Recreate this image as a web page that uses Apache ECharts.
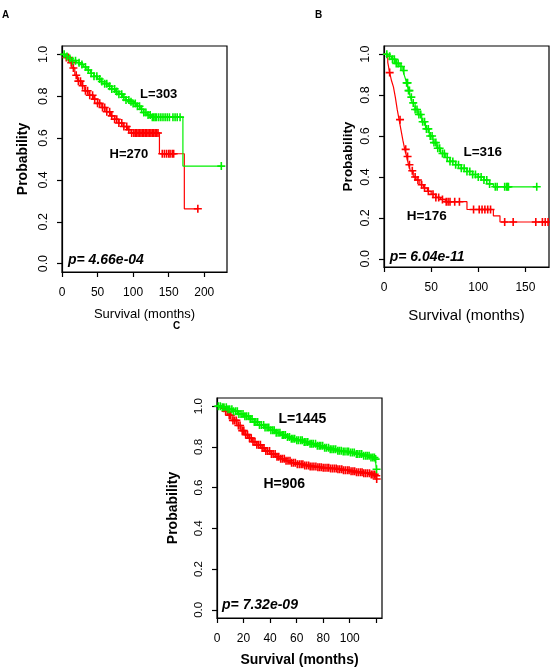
<!DOCTYPE html>
<html><head><meta charset="utf-8">
<script src="https://cdn.jsdelivr.net/npm/echarts@6/dist/echarts.min.js"></script>
<style>html,body{margin:0;padding:0;background:#fff}#c{width:550px;height:668px}</style>
</head><body><div id="c"></div>
<script>
// ---------- Panel A ----------
const aLowT = [0,5,10,15,20,25,30,35,40,45,50,55,60,65,70,75,80,85,90,95,100,105,110,115,120,125,170,224];
const aLowS = [1.0,0.99,0.98,0.97,0.96,0.952,0.94,0.925,0.91,0.895,0.882,0.87,0.86,0.848,0.835,0.822,0.81,0.795,0.782,0.774,0.765,0.752,0.738,0.722,0.71,0.70,0.466,0.466];
const aLowCensor = [3,7,11,15,19,24,28,33,37,41,45,49,53,56,60,63,67,70,74,77,80,84,87,90,94,97,100,103,106,109,112,115,118,121,124,127,129,131,133,136,139,142,145,148,151,156,159,162,166,224];
const aHighT = [0,5,10,14,18,22,27,32,38,44,50,56,62,68,74,80,86,92,97,137,172,191];
const aHighS = [1.0,0.985,0.96,0.935,0.9,0.872,0.85,0.826,0.805,0.786,0.766,0.746,0.726,0.706,0.69,0.672,0.655,0.64,0.624,0.525,0.262,0.262];
const aHighCensor = [6,9,13,16,20,23,26,29,33,36,39,43,46,50,53,57,60,63,67,70,74,77,80,84,87,91,94,98,101,103,105,107,109,111,113,115,117,119,121,123,125,127,129,131,133,135,141,144,147,150,152,155,157,191];
// ---------- Panel B ----------
const bLowT = [0,4,8,12,16,20,22,24,26,28,30,33,36,40,44,48,52,56,60,65,70,76,82,88,94,100,106,112,116,162];
const bLowS = [1.0,0.99,0.975,0.955,0.94,0.92,0.89,0.86,0.822,0.79,0.762,0.73,0.705,0.67,0.635,0.6,0.568,0.54,0.515,0.495,0.476,0.46,0.442,0.427,0.412,0.4,0.385,0.366,0.352,0.352];
const bLowCensor = [3,6,9,11,13,15,18,21,24,25,26,27,29,31,33,35,37,39,41,43,45,47,49,51,53,55,57,59,62,64,67,70,73,76,79,82,85,88,91,94,97,100,103,106,109,112,118,120,128,130,131,132,162];
const bHighT = [0,4,6,8,10,12,14,16,18,20,22,24,26,28,31,34,38,42,46,50,55,60,65,88,116,123,174];
const bHighS = [1.0,0.96,0.91,0.87,0.84,0.79,0.73,0.68,0.63,0.58,0.535,0.5,0.46,0.43,0.4,0.385,0.362,0.346,0.33,0.315,0.3,0.29,0.279,0.241,0.21,0.18,0.18];
const bHighCensor = [6,17,23,25,27,30,33,36,40,43,47,52,55,58,62,66,68,70,75,80,95,101,104,107,110,113,128,137,161,168,171,174];
// ---------- Panel C ----------
const cLowT = [0,4,8,12,16,20,24,28,32,36,40,44,48,52,56,60,65,70,75,80,85,90,95,100,105,110,115,119,120.2];
const cLowS = [1.0,0.995,0.985,0.975,0.962,0.95,0.937,0.922,0.908,0.895,0.882,0.87,0.858,0.848,0.84,0.832,0.824,0.815,0.805,0.796,0.788,0.781,0.777,0.772,0.765,0.757,0.748,0.74,0.69];
const cLowCensor = [1,2.5,4,5.2,7,8.3,9.5,11.2,12.4,14,15.3,16.5,18.1,19.6,21,22.2,23.7,25,26.4,28.1,29.3,30.6,32,33.4,35.1,36.2,37.7,39,40.6,42,43.1,44.6,46,47.4,49.2,50.3,51.5,53.1,54.6,56,57.2,58.5,60.1,61.4,63,64.2,65.7,67,68.4,70.1,71.3,72.5,74.2,75.6,77,78.2,79.6,81.1,82.4,84,85.3,86.6,88,89.4,91,92.2,93.6,95.1,96.4,98,99.1,100.6,102,103.4,105,106.1,107.6,109,110.5,112,113.2,114.6,116,117.4,118.6,119.5,120.2];
const cHighT = [0,3,6,9,12,15,18,21,24,27,30,33,36,40,44,48,52,56,60,65,70,75,80,85,90,95,100,105,110,115,119,120.3];
const cHighS = [1.0,0.99,0.975,0.955,0.93,0.905,0.88,0.86,0.843,0.825,0.81,0.795,0.78,0.765,0.752,0.742,0.732,0.722,0.715,0.709,0.704,0.7,0.697,0.694,0.69,0.685,0.68,0.675,0.671,0.665,0.658,0.642];
const cHighCensor = [5,6.5,7.8,9.2,10.4,12,13.3,14.6,16.1,17.4,19,20.2,21.6,23,24.5,25.8,27.1,28.6,30,31.3,32.7,34,35.4,36.8,38.1,39.6,41,42.3,43.8,45.2,46.5,48,49.3,50.7,52,53.5,55,56.2,57.6,59,60.5,62,63.4,64.7,66.1,67.5,69,70.2,71.6,73,74.5,76,77.3,78.6,80,81.4,82.9,84.2,85.6,87,88.4,89.8,91.1,92.5,94,95.3,96.7,98.2,99.5,101,102.4,103.7,105.1,106.5,108,109.3,110.6,112,113.4,114.9,116.2,117.5,118.8,120,120.3];

// ---------- labels ----------
const aTicksX = [0,50,100,150,200];
const bTicksX = [0,50,100,150];
const cTicksX = [0,20,40,60,80,100,120];
const cLabelsX = [0,20,40,60,80,100];
const yTicks = [0,0.2,0.4,0.6,0.8,1.0];
const groupNames = ['L=303','H=270','L=316','H=176','L=1445','H=906'];
const pTexts = ['p= 4.66e-04','p= 6.04e-11','p= 7.32e-09'];
const panelLetters = ['A','B','C'];

const RED = '#ff0000', GREEN = '#00f000';
const PLUS = 'path://M4,0H6V4H10V6H6V10H4V6H0V4H4Z';
const FONT = 'Liberation Sans';

function steps(T,S){ return T.map((t,i)=>[t,S[i]]); }
function surv(T,S,t){ let s=S[0]; for(let i=0;i<T.length;i++){ if(T[i]<=t) s=S[i]; } return s; }
function censor(T,S,C){ return C.map(t=>[t,surv(T,S,t)]); }

const grids = [
  {left:62, top:46, width:165, height:226},
  {left:384, top:46, width:165, height:221},
  {left:217, top:398, width:165, height:221}
];
const xMax = [232, 175, 124.3];
const xTickVals = [aTicksX, bTicksX, cTicksX];
const xLabelVals = [aTicksX, bTicksX, cLabelsX];
const xNameStyle = [
  {fontSize:13, fontWeight:'normal'},
  {fontSize:15, fontWeight:'normal'},
  {fontSize:14, fontWeight:'bold'}
];
const yLabelSize = [12.5, 12.5, 11.5];
const yNameSize = [14, 13.5, 14];
const yNameGap = [32, 29, 37];
const xNameGap = [36, 41, 35];
const xLabelSize = [12, 12, 12];

const xAxes = grids.map((g,i)=>({
  gridIndex:i, type:'value', min:0, max:xMax[i],
  axisLine:{show:true, onZero:false, lineStyle:{color:'#000', width:1.2}},
  axisTick:{show:true, inside:false, length:5, customValues:xTickVals[i], lineStyle:{color:'#000', width:1.2}},
  axisLabel:{customValues:xLabelVals[i], color:'#000', fontSize:xLabelSize[i], fontFamily:FONT, margin:15},
  splitLine:{show:false},
  name:'Survival (months)', nameLocation:'middle', nameGap:xNameGap[i],
  nameTextStyle:Object.assign({color:'#000', fontFamily:FONT}, xNameStyle[i])
}));
const yAxes = grids.map((g,i)=>({
  gridIndex:i, type:'value', min:-0.04, max:1.04,
  axisLine:{show:true, onZero:false, lineStyle:{color:'#000', width:1.2}},
  axisTick:{show:true, inside:false, length:5, customValues:yTicks, lineStyle:{color:'#000', width:1.2}},
  axisLabel:{customValues:yTicks, rotate:90, color:'#000', fontSize:yLabelSize[i], fontFamily:FONT, margin:12,
    formatter:v=>v.toFixed(1)},
  splitLine:{show:false},
  name:'Probability', nameLocation:'middle', nameGap:yNameGap[i], nameRotate:90,
  nameTextStyle:{color:'#000', fontFamily:FONT, fontWeight:'bold', fontSize:yNameSize[i]}
}));

const curves = [
  [aHighT,aHighS,aHighCensor,aLowT,aLowS,aLowCensor],
  [bHighT,bHighS,bHighCensor,bLowT,bLowS,bLowCensor],
  [cHighT,cHighS,cHighCensor,cLowT,cLowS,cLowCensor]
];
const groupPos = [[[94,0.523],[136,0.81]],[[45.3,0.209],[104.7,0.52]],[[50.7,0.619],[64.3,0.936]]];
const groupSize = [13,13.5,14];
const pPos = [[8.4,0.016],[6,0.007],[3.8,0.022]];

const series = [];
curves.forEach((c,i)=>{
  const [hT,hS,hC,lT,lS,lC] = c;
  series.push({type:'line', xAxisIndex:i, yAxisIndex:i, step:'end', data:steps(hT,hS), symbol:'none',
    lineStyle:{color:RED, width:1.2}, z:2});
  series.push({type:'scatter', xAxisIndex:i, yAxisIndex:i, data:censor(hT,hS,hC), symbol:PLUS, symbolSize:8,
    itemStyle:{color:RED, opacity:1}, z:3});
  series.push({type:'line', xAxisIndex:i, yAxisIndex:i, step:'end', data:steps(lT,lS), symbol:'none',
    lineStyle:{color:GREEN, width:1.2}, z:4});
  series.push({type:'scatter', xAxisIndex:i, yAxisIndex:i, data:censor(lT,lS,lC), symbol:PLUS, symbolSize:8,
    itemStyle:{color:GREEN, opacity:1}, z:5});
  series.push({type:'scatter', xAxisIndex:i, yAxisIndex:i, symbolSize:0, z:6, silent:true,
    itemStyle:{opacity:1},
    data:[
      {value:groupPos[i][0], label:{formatter:groupNames[2*i+1]}},
      {value:groupPos[i][1], label:{formatter:groupNames[2*i]}}
    ],
    label:{show:true, position:'inside', color:'#000', textBorderWidth:0, fontFamily:FONT, fontWeight:'bold', fontSize:groupSize[i]}});
  series.push({type:'scatter', xAxisIndex:i, yAxisIndex:i, symbolSize:0, z:6, silent:true,
    itemStyle:{opacity:1},
    data:[{value:pPos[i], label:{formatter:pTexts[i]}}],
    label:{show:true, position:'right', distance:0, color:'#000', textBorderWidth:0, fontFamily:FONT, fontWeight:'bold', fontStyle:'italic', fontSize:14}});
});

const chart = echarts.init(document.getElementById('c'), null, {renderer:'canvas'});
chart.setOption({
  animation:false,
  backgroundColor:'#fff',
  grid: grids.map(g=>Object.assign({show:true, borderColor:'#000', borderWidth:1.2, backgroundColor:'transparent'}, g)),
  xAxis:xAxes, yAxis:yAxes, series:series,
  graphic:[
    {type:'text', left:2, top:10, style:{text:panelLetters[0], font:'bold 10px Liberation Sans', fill:'#000'}},
    {type:'text', left:315, top:10, style:{text:panelLetters[1], font:'bold 10px Liberation Sans', fill:'#000'}},
    {type:'text', left:173, top:321, style:{text:panelLetters[2], font:'bold 10px Liberation Sans', fill:'#000'}}
  ]
});
</script></body></html>
